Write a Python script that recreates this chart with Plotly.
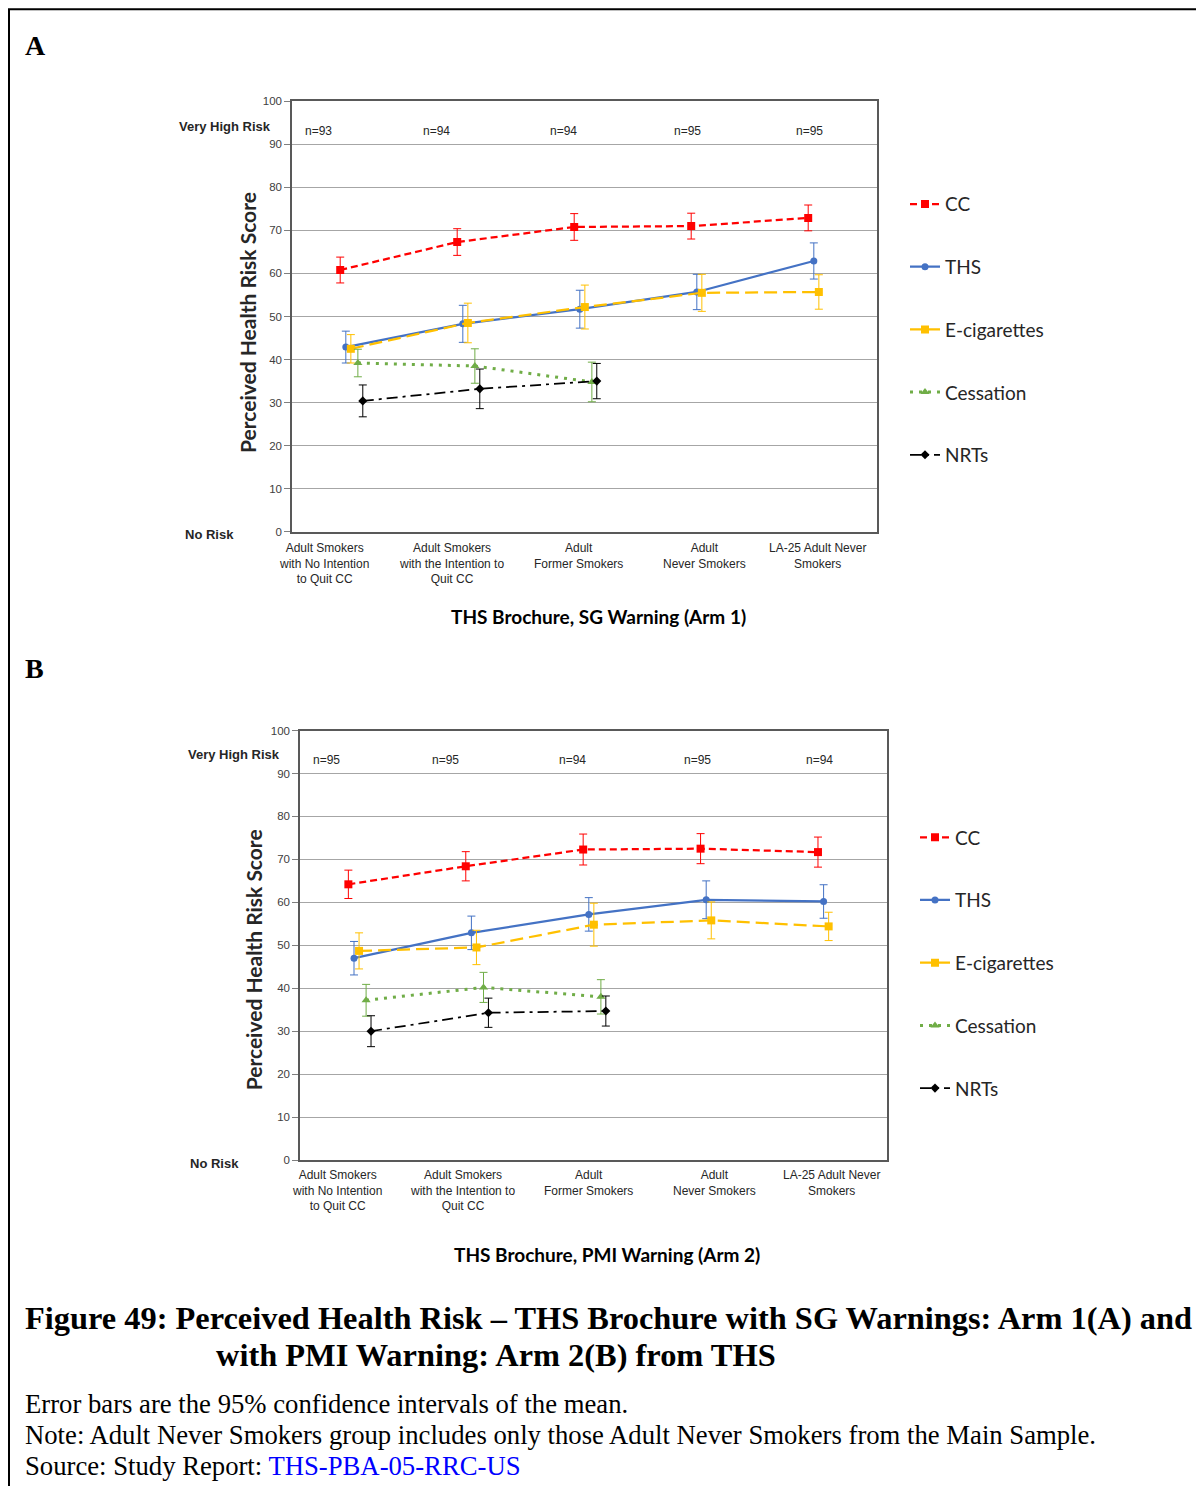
import plotly.graph_objects as go

# figure placement compensation (page margin and screenshot scaling)
OX, OY = 8, 8
FW, FH = 1188, 1478
SY, CY = 0.993, 4.7

# ---------------- data ----------------
categories = ["Adult Smokers<br>with No Intention<br>to Quit CC",
              "Adult Smokers<br>with the Intention to<br>Quit CC",
              "Adult<br>Former Smokers",
              "Adult<br>Never Smokers",
              "LA-25 Adult Never<br>Smokers"]
series_names = ["CC", "THS", "E-cigarettes", "Cessation", "NRTs"]

# Panel A (Arm 1)
n_a = ["n=93", "n=94", "n=94", "n=95", "n=95"]
cc_a = [60.8, 67.3, 70.8, 71.0, 72.9]
cc_a_err = [3.0, 3.1, 3.1, 3.0, 3.0]
ths_a = [42.9, 48.3, 51.7, 55.7, 62.9]
ths_a_err = [3.7, 4.3, 4.4, 4.1, 4.2]
ecig_a = [42.5, 48.5, 52.2, 55.5, 55.7]
ecig_a_err = [3.3, 4.6, 5.1, 4.3, 4.0]
cess_a = [39.2, 38.5, 34.8]
cess_a_err = [3.2, 4.0, 4.6]
nrt_a = [30.4, 33.2, 35.0]
nrt_a_err = [3.7, 4.6, 4.1]

# Panel B (Arm 2)
n_b = ["n=95", "n=95", "n=94", "n=95", "n=94"]
cc_b = [64.2, 68.4, 72.3, 72.5, 71.7]
cc_b_err = [3.3, 3.4, 3.6, 3.5, 3.5]
ths_b = [47.0, 52.9, 57.2, 60.6, 60.2]
ths_b_err = [3.9, 3.9, 3.9, 4.4, 3.9]
ecig_b = [48.7, 49.5, 54.8, 55.8, 54.4]
ecig_b_err = [4.2, 4.0, 5.0, 4.3, 3.3]
cess_b = [37.2, 40.2, 38.0]
cess_b_err = [3.7, 3.5, 4.0]
nrt_b = [30.0, 34.3, 34.7]
nrt_b_err = [3.6, 3.4, 3.5]

# ---------------- styles ----------------
styles = {
    "CC": dict(color="#FF0000", dash="7px,4px", symbol="square", msize=8, width=2.25, off=-0.088),
    "THS": dict(color="#4472C4", dash="solid", symbol="circle", msize=7, width=2.25, off=-0.04),
    "E-cigarettes": dict(color="#FFC000", dash="13px,6px", symbol="square", msize=8, width=2.25, off=0.003),
    "Cessation": dict(color="#70AD47", dash="3px,6px", symbol="triangle-up", msize=8, width=3, off=0.063),
    "NRTs": dict(color="#000000", dash="11px,5px,3px,5px", symbol="diamond", msize=7, width=1.75, off=0.105),
}

SERIF = "Liberation Serif, Times New Roman, serif"
CAL = "Lato, Carlito, Calibri, sans-serif"
NARROW = "Liberation Sans Narrow, Arial Narrow, Liberation Sans, Arial, sans-serif"
ARIAL = "Liberation Sans, Arial, sans-serif"


def py(p):
    pp = (p - CY) / SY
    return 1 - (pp - OY) / FH


def px(p):
    return (p - OX) / FW


fig = go.Figure()


def add_panel(xa, ya, legend, vals, errs):
    for name, v, e in zip(series_names, vals, errs):
        s = styles[name]
        xs = [i + s["off"] for i in range(len(v))]
        fig.add_trace(go.Scatter(
            x=xs, y=v, name=name, mode="lines+markers",
            xaxis=xa, yaxis=ya, legend=legend, legendgroup=legend + name,
            line=dict(color=s["color"], width=s["width"], dash=s["dash"]),
            marker=dict(symbol=s["symbol"], size=s["msize"], color=s["color"]),
            error_y=dict(type="data", array=e, visible=True, color=s["color"],
                         thickness=1, width=4),
            hoverinfo="x+y+name",
        ))


add_panel("x", "y", "legend",
          [cc_a, ths_a, ecig_a, cess_a, nrt_a],
          [cc_a_err, ths_a_err, ecig_a_err, cess_a_err, nrt_a_err])
add_panel("x2", "y2", "legend2",
          [cc_b, ths_b, ecig_b, cess_b, nrt_b],
          [cc_b_err, ths_b_err, ecig_b_err, cess_b_err, nrt_b_err])

# plot areas in pixels
A = dict(x0=292, x1=877, y0=100, y1=531)
B = dict(x0=300, x1=887, y0=730, y1=1160)

xcommon = dict(range=[-0.5, 4.5], showticklabels=False, showgrid=False,
               zeroline=False, showline=True, linecolor="#595959", linewidth=1.5,
               mirror=True, fixedrange=True)
ycommon = dict(range=[0, 100], dtick=10, showgrid=True, gridcolor="#A6A6A6",
               gridwidth=1, zeroline=False, showline=True, linecolor="#595959",
               linewidth=1.5, mirror=True, ticks="outside", ticklen=6,
               tickcolor="#7F7F7F", tickfont=dict(family=ARIAL, size=11.5, color="#404040"),
               fixedrange=True)

legfont = dict(family=CAL, size=19, color="#262626")
fig.update_layout(
    width=FW, height=FH,
    margin=dict(l=0, r=0, t=0, b=0),
    paper_bgcolor="white", plot_bgcolor="white",
    showlegend=True,
    xaxis=dict(domain=[px(A["x0"]), px(A["x1"])], anchor="y", **xcommon),
    yaxis=dict(domain=[py(A["y1"]), py(A["y0"])], anchor="x", **ycommon),
    xaxis2=dict(domain=[px(B["x0"]), px(B["x1"])], anchor="y2", **xcommon),
    yaxis2=dict(domain=[py(B["y1"]), py(B["y0"])], anchor="x2", **ycommon),
    legend=dict(x=px(905), y=py(184), xanchor="left", yanchor="top",
                font=legfont, tracegroupgap=35, bgcolor="rgba(0,0,0,0)", itemwidth=30),
    legend2=dict(x=px(915), y=py(818), xanchor="left", yanchor="top",
                 font=legfont, tracegroupgap=35, bgcolor="rgba(0,0,0,0)", itemwidth=30),
)

ann = []
# panel letters
ann.append(dict(text="<b>A</b>", x=px(23), y=py(44), xanchor="left", yanchor="middle",
                font=dict(family=SERIF, size=28, color="black")))
ann.append(dict(text="<b>B</b>", x=px(23), y=py(668), xanchor="left", yanchor="middle",
                font=dict(family=SERIF, size=28, color="black")))

panel_text = [
    dict(xcat=[324, 451, 578, 704, 818], xn=[318, 436, 563, 688, 809], n=n_a,
         ycat=538, yn=130, vh=(273, 125), nr=(236, 534), ytitle=(247, 322),
         sub=(598, 616, "THS Brochure, SG Warning (Arm 1)")),
    dict(xcat=[337, 462, 588, 714, 831], xn=[326, 445, 572, 697, 819], n=n_b,
         ycat=1166, yn=759, vh=(282, 754), nr=(241, 1163), ytitle=(253, 960),
         sub=(607, 1255, "THS Brochure, PMI Warning (Arm 2)")),
]
for p in panel_text:
    for xc, lab in zip(p["xcat"], categories):
        ann.append(dict(text=lab, x=px(xc), y=py(p["ycat"]), xanchor="center", yanchor="top",
                        align="center", font=dict(family=NARROW, size=12, color="#262626")))
    for xn, lab in zip(p["xn"], p["n"]):
        ann.append(dict(text=lab, x=px(xn), y=py(p["yn"]), xanchor="center", yanchor="middle",
                        font=dict(family=NARROW, size=12, color="#262626")))
    ann.append(dict(text="<b>Very High Risk</b>", x=px(p["vh"][0]), y=py(p["vh"][1]),
                    xanchor="right", yanchor="middle",
                    font=dict(family=ARIAL, size=13, color="#262626")))
    ann.append(dict(text="<b>No Risk</b>", x=px(p["nr"][0]), y=py(p["nr"][1]),
                    xanchor="right", yanchor="middle",
                    font=dict(family=ARIAL, size=13, color="#262626")))
    ann.append(dict(text="<b>Perceived Health Risk Score</b>", x=px(p["ytitle"][0]),
                    y=py(p["ytitle"][1]), xanchor="center", yanchor="middle", textangle=-90,
                    font=dict(family=CAL, size=21, color="#262626")))
    ann.append(dict(text="<b>" + p["sub"][2] + "</b>", x=px(p["sub"][0]), y=py(p["sub"][1]),
                    xanchor="center", yanchor="middle",
                    font=dict(family=CAL, size=19, color="black")))

# captions
ann.append(dict(text="<b>Figure 49: Perceived Health Risk – THS Brochure with SG Warnings: Arm 1(A) and</b>",
                x=px(23), y=py(1318), xanchor="left", yanchor="middle",
                font=dict(family=SERIF, size=32.4, color="black")))
ann.append(dict(text="<b>with PMI Warning: Arm 2(B) from THS</b>",
                x=px(214), y=py(1355), xanchor="left", yanchor="middle",
                font=dict(family=SERIF, size=32.4, color="black")))
notes = ["Error bars are the 95% confidence intervals of the mean.",
         "Note: Adult Never Smokers group includes only those Adult Never Smokers from the Main Sample.",
         "Source: Study Report: <span style='color:#0000FF'>THS-PBA-05-RRC-US</span>"]
for i, t in enumerate(notes):
    ann.append(dict(text=t, x=px(23), y=py(1404 + 31 * i), xanchor="left", yanchor="middle",
                    font=dict(family=SERIF, size=26.7, color="black")))

for a in ann:
    a.setdefault("xref", "paper")
    a.setdefault("yref", "paper")
    a["showarrow"] = False
fig.update_layout(annotations=ann)

# outer frame
fig.add_shape(type="rect", xref="paper", yref="paper",
              x0=px(9), x1=px(1230), y0=-0.05, y1=py(8),
              line=dict(color="black", width=2), fillcolor="rgba(0,0,0,0)", layer="above")

fig.write_html("out.html")
